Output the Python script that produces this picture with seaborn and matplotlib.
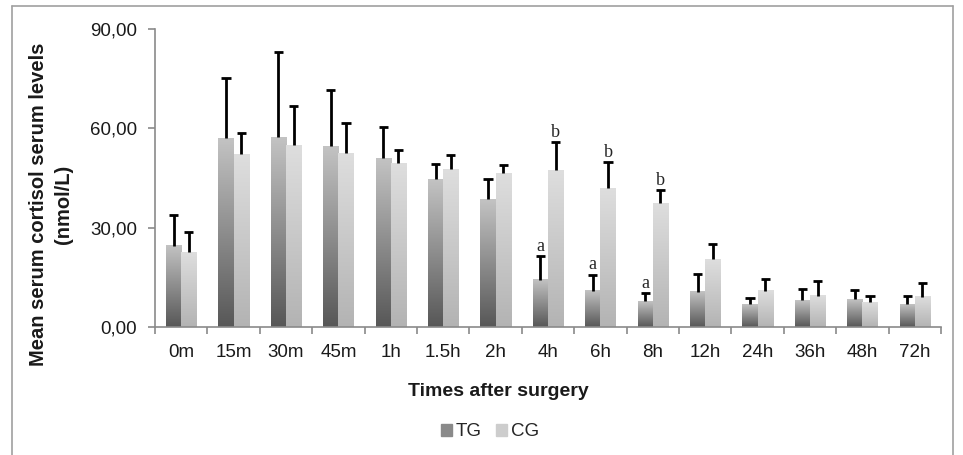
import matplotlib.pyplot as plt
import matplotlib.patches as mpatches
import numpy as np
import pandas as pd
import seaborn as sns

from matplotlib.colors import LinearSegmentedColormap
from matplotlib.lines import Line2D

times = ['0m', '15m', '30m', '45m', '1h', '1.5h', '2h', '4h', '6h', '8h',
         '12h', '24h', '36h', '48h', '72h']
tg_mean = [24.5, 57.0, 57.3, 54.6, 51.0, 44.6, 38.6, 14.2, 10.9, 7.8,
           10.6, 6.9, 8.1, 8.4, 6.9]
tg_err_top = [33.8, 75.3, 83.0, 71.5, 60.3, 49.1, 44.6, 21.4, 15.8, 10.2,
              16.0, 8.8, 11.6, 11.1, 9.3]
cg_mean = [22.6, 52.1, 54.9, 52.4, 49.4, 47.6, 46.4, 47.3, 41.9, 37.4,
           20.5, 10.9, 9.4, 7.5, 9.1]
cg_err_top = [28.8, 58.5, 66.6, 61.5, 53.4, 51.9, 48.8, 55.8, 49.7, 41.3,
              25.0, 14.5, 13.9, 9.4, 13.4]
tg_marks = ['', '', '', '', '', '', '', 'a', 'a', 'a', '', '', '', '', '']
cg_marks = ['', '', '', '', '', '', '', 'b', 'b', 'b', '', '', '', '', '']
groups = ['TG', 'CG']
y_ticks = [0, 30, 60, 90]

df = pd.DataFrame({
    'time': times * 2,
    'group': ['TG'] * len(times) + ['CG'] * len(times),
    'value': tg_mean + cg_mean,
})

sns.set_style('white')
plt.rcParams['font.family'] = ['Liberation Sans', 'DejaVu Sans']

fig = plt.figure(figsize=(9.63, 4.55), dpi=100)
ax = fig.add_axes([155 / 963, 1 - 327 / 455, (941 - 155) / 963, (327 - 29) / 455])

sns.barplot(data=df, x='time', y='value', hue='group', order=times,
            hue_order=groups, palette=['#8c8c8c', '#cccccc'], width=0.58,
            errorbar=None, legend=False, ax=ax, zorder=2)

# vertical gradient fill, dark at the base
cmaps = [LinearSegmentedColormap.from_list('tg', ['#575757', '#c3c3c3']),
         LinearSegmentedColormap.from_list('cg', ['#b3b3b3', '#dedede'])]
grad = np.linspace(0, 1, 256).reshape(-1, 1)
err_tops = [tg_err_top, cg_err_top]
marks = [tg_marks, cg_marks]
for container, cmap, tops, mk in zip(ax.containers, cmaps, err_tops, marks):
    for bar, top, m in zip(container, tops, mk):
        x0, w, h = bar.get_x(), bar.get_width(), bar.get_height()
        ax.imshow(grad, extent=[x0, x0 + w, 0, h], origin='lower',
                  aspect='auto', cmap=cmap, interpolation='bilinear', zorder=2)
        bar.set_facecolor('none')
        bar.set_edgecolor('none')
        cx = x0 + w / 2
        cw = w * 0.3
        ax.vlines(cx, h, top, color='black', lw=2, zorder=3)
        ax.hlines(top, cx - cw, cx + cw, color='black', lw=2, zorder=3)
        if m:
            ax.annotate(m, (cx, top), xytext=(0, 1), textcoords='offset points',
                        ha='center', va='bottom', fontsize=13,
                        family=['Liberation Serif', 'DejaVu Serif'])

ax.set_xlim(-0.5, len(times) - 0.5)
ax.set_ylim(0, 90)
ax.set_yticks(y_ticks)
ax.set_yticklabels([f'{v:.2f}'.replace('.', ',') for v in y_ticks])
ax.set_xticks(range(len(times)))
ax.set_xticklabels(times)
ax.set_xticks(np.arange(-0.5, len(times), 1), minor=True)
ax.tick_params(axis='x', which='major', length=0, pad=12, labelsize=13.5,
               labelcolor='#1a1a1a')
ax.tick_params(axis='x', which='minor', length=5, width=1.2, color='#8a8a8a',
               direction='out', bottom=True)
ax.tick_params(axis='y', length=5, width=1.2, color='#8a8a8a', direction='out',
               left=True, labelsize=13.5, labelcolor='#1a1a1a', pad=8)
ax.set_xlabel('')
ax.set_ylabel('')
for side in ['top', 'right']:
    ax.spines[side].set_visible(False)
for side in ['left', 'bottom']:
    ax.spines[side].set_color('#8a8a8a')
    ax.spines[side].set_linewidth(1.2)

fig.text(51 / 963, 1 - 204 / 455, 'Mean serum cortisol serum levels\n(nmol/L)',
         rotation=90, ha='center', va='center', fontsize=14.5, fontweight='bold',
         linespacing=1.35, color='#1a1a1a')
fig.text(498 / 963, 1 - 392 / 455, 'Times after surgery', ha='center',
         va='center', fontsize=14, fontweight='bold', color='#1a1a1a')

handles = [mpatches.Patch(color='#8a8a8a', label='TG'),
           mpatches.Patch(color='#cdcdcd', label='CG')]
fig.legend(handles=handles, loc='center', bbox_to_anchor=(490 / 963, 1 - 432 / 455),
           ncol=2, frameon=False, fontsize=13.5, handlelength=0.55,
           handleheight=0.55, handletextpad=0.2, columnspacing=0.8)

# outer frame around the chart area
frame_kw = dict(color='#a0a0a0', lw=1.2, transform=fig.transFigure)
fig.add_artist(Line2D([12 / 963, 12 / 963], [0, 1 - 6 / 455], **frame_kw))
fig.add_artist(Line2D([12 / 963, 953 / 963], [1 - 6 / 455, 1 - 6 / 455], **frame_kw))
fig.add_artist(Line2D([953 / 963, 953 / 963], [0, 1 - 6 / 455], **frame_kw))

fig.savefig('out.png', dpi=100)
